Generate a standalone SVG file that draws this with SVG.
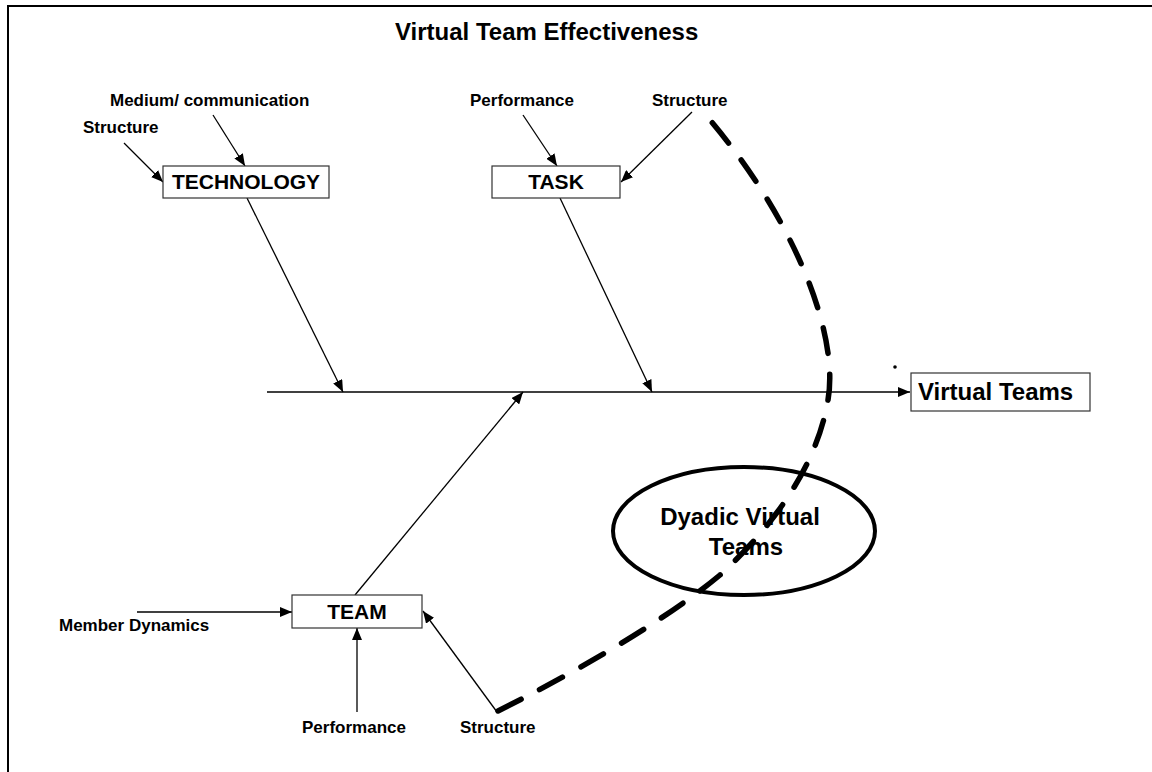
<svg xmlns="http://www.w3.org/2000/svg" width="1152" height="772" viewBox="0 0 1152 772">
<style>
.lbl{font-family:"Liberation Sans",Arial,sans-serif;font-weight:bold;font-size:17px;fill:#000}
.box{fill:#fff;stroke:#333;stroke-width:1.2}
.boxt{font-family:"Liberation Sans",Arial,sans-serif;font-weight:bold;font-size:21px;fill:#000;text-anchor:middle}
.big{font-family:"Liberation Sans",Arial,sans-serif;font-weight:bold;font-size:24px;fill:#000}
.con{stroke:#000;stroke-width:1.3;fill:none;marker-end:url(#ah)}
</style>
<defs>
<marker id="ah" markerUnits="userSpaceOnUse" markerWidth="12" markerHeight="10" viewBox="0 0 12 10" refX="12" refY="5" orient="auto">
<path d="M0,0 L12,5 L0,10 Z" fill="#000"/>
</marker>
</defs>
<rect width="1152" height="772" fill="#fff"/>
<path d="M8,772 L8,6 L1152,6" fill="none" stroke="#000" stroke-width="2"/>
<text class="big" x="395" y="40">Virtual Team Effectiveness</text>
<g id="connectors">
<line class="con" x1="267" y1="392" x2="910" y2="392"/>
<line class="con" x1="247" y1="198" x2="343" y2="392"/>
<line class="con" x1="560" y1="198" x2="652" y2="392"/>
<line class="con" x1="355" y1="595" x2="523" y2="392"/>
<line class="con" x1="124" y1="143" x2="163" y2="182"/>
<line class="con" x1="213" y1="115" x2="245" y2="166"/>
<line class="con" x1="523" y1="115" x2="557" y2="166"/>
<line class="con" x1="692" y1="112" x2="621" y2="182"/>
<line class="con" x1="137" y1="612" x2="292" y2="612"/>
<line class="con" x1="357" y1="712" x2="357" y2="628"/>
<line class="con" x1="497" y1="712" x2="423" y2="611"/>
<path d="M498,711 C560,680 660,625 720,575 C780,520 818,460 828,400 C840,330 790,212 704,113" fill="none" stroke="#000" stroke-width="5.5" stroke-linecap="round" stroke-dasharray="26 21"/>
</g>
<g id="technology">
<rect class="box" x="163" y="166" width="166" height="32"/>
<text class="boxt" x="246" y="189">TECHNOLOGY</text>
</g>
<g id="task">
<rect class="box" x="492" y="166" width="128" height="32"/>
<text class="boxt" x="556" y="189">TASK</text>
</g>
<g id="team">
<rect class="box" x="292" y="595" width="130" height="33"/>
<text class="boxt" x="357" y="619">TEAM</text>
</g>
<g id="virtual-teams">
<rect class="box" x="911" y="373" width="179" height="38"/>
<text class="big" x="918" y="400">Virtual Teams</text>
</g>
<g id="dyadic">
<ellipse cx="744" cy="531" rx="131" ry="64" fill="none" stroke="#000" stroke-width="4"/>
<text class="big" x="740" y="525" text-anchor="middle" font-size="23">Dyadic Virtual</text>
<text class="big" x="746" y="555" text-anchor="middle" font-size="23">Teams</text>
</g>
<g id="labels">
<text class="lbl" x="110" y="106">Medium/ communication</text>
<text class="lbl" x="83" y="133">Structure</text>
<text class="lbl" x="470" y="106">Performance</text>
<text class="lbl" x="652" y="106">Structure</text>
<text class="lbl" x="59" y="631">Member Dynamics</text>
<text class="lbl" x="302" y="733">Performance</text>
<text class="lbl" x="460" y="733">Structure</text>
</g>
<circle cx="895" cy="367" r="1.8" fill="#000"/>
</svg>
